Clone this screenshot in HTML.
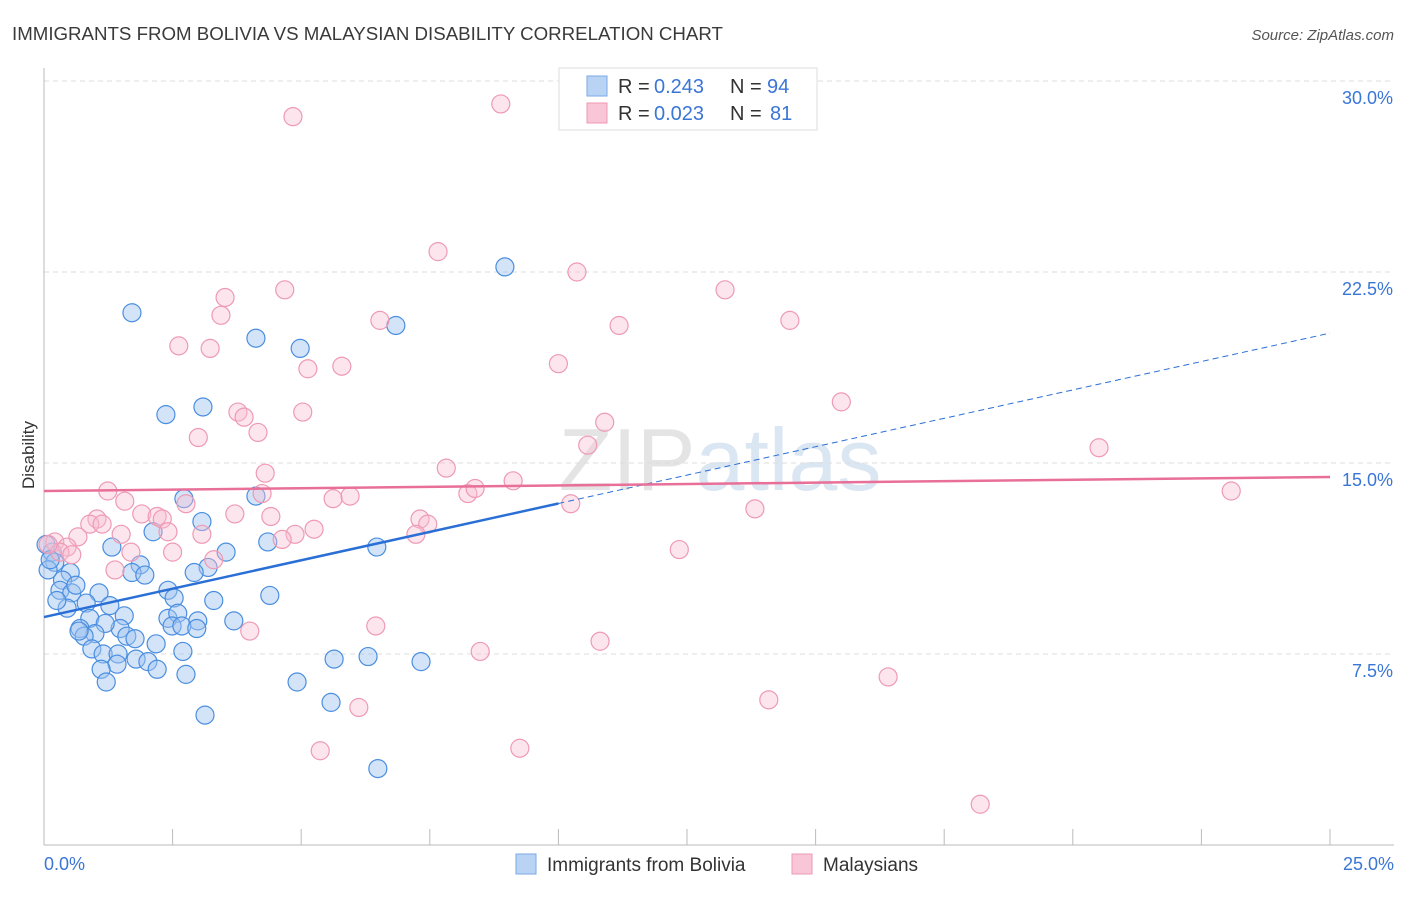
<!DOCTYPE html>
<html><head><meta charset="utf-8"><style>
body{margin:0;background:#fff;font-family:"Liberation Sans",sans-serif;}
svg text{font-family:"Liberation Sans",sans-serif;}
</style></head><body>
<svg width="1406" height="892" xmlns="http://www.w3.org/2000/svg">
<text x="12" y="40" font-size="18.7" fill="#3a3a3a">IMMIGRANTS FROM BOLIVIA VS MALAYSIAN DISABILITY CORRELATION CHART</text>
<text x="1394" y="40" font-size="15" fill="#555" font-style="italic" text-anchor="end">Source: ZipAtlas.com</text>
<text x="720" y="490" font-size="88" fill="#e4e4e4" text-anchor="middle" font-family="Liberation Serif">ZIP<tspan fill="#dbe6f3" font-family="Liberation Sans">atlas</tspan></text>
<g id="grid"></g>
<g id="axes"></g>
<g id="pts"></g>
<g id="lines"></g>
<text x="34" y="455" font-size="17" fill="#333" text-anchor="middle" transform="rotate(-90 34 455)">Disability</text>
<g>
<rect x="559" y="68" width="258" height="62" fill="#fff" stroke="#ddd"/>
<rect x="587" y="76" width="20" height="20" fill="#b9d3f5" stroke="#7aa9e6"/>
<rect x="587" y="103" width="20" height="20" fill="#f8c6d6" stroke="#ee9ab4"/>
<text x="618" y="93" font-size="20" fill="#333">R =</text>
<text x="654" y="93" font-size="20" fill="#3a76d6">0.243</text>
<text x="730" y="93" font-size="20" fill="#333">N =</text>
<text x="767" y="93" font-size="20" fill="#3a76d6">94</text>
<text x="618" y="120" font-size="20" fill="#333">R =</text>
<text x="654" y="120" font-size="20" fill="#3a76d6">0.023</text>
<text x="730" y="120" font-size="20" fill="#333">N =</text>
<text x="770" y="120" font-size="20" fill="#3a76d6">81</text>
</g>
<g>
<rect x="516" y="854" width="20" height="20" fill="#b9d3f5" stroke="#7aa9e6"/>
<text x="547" y="871" font-size="19" fill="#333">Immigrants from Bolivia</text>
<rect x="792" y="854" width="20" height="20" fill="#f8c6d6" stroke="#ee9ab4"/>
<text x="823" y="871" font-size="19" fill="#333">Malaysians</text>
</g>
</svg>
<script>
const yTicks=[7.5,15.0,22.5,30.0];
const xTickLabels=["0.0%","25.0%"];
const blueX=[8.96,1.71,4.12,6.84,4.98,2.37,3.09,2.72,4.12,3.07,2.12,4.35,6.47,3.54,1.32,1.87,1.71,1.96,3.19,2.92,0.51,0.16,0.21,0.08,0.36,0.31,0.54,1.07,2.41,2.53,3.30,4.39,0.82,1.28,0.45,0.89,1.56,2.41,2.60,2.99,1.48,1.19,0.70,0.99,0.78,2.49,2.68,2.97,3.69,1.61,1.77,2.18,0.93,1.15,1.44,1.79,2.02,2.70,1.42,1.11,2.20,2.76,1.21,5.64,6.30,7.33,4.92,5.58,3.13,6.49,0.04,0.12,0.62,0.25,0.68];
const blueY=[22.7,20.9,19.9,20.4,19.5,16.9,17.2,13.6,13.7,12.7,12.3,11.9,11.7,11.5,11.7,11.0,10.7,10.6,10.9,10.7,10.7,11.5,11.1,10.8,10.4,10.0,9.9,9.9,10.0,9.7,9.6,9.8,9.5,9.4,9.3,8.9,9.0,8.9,9.1,8.8,8.5,8.7,8.5,8.3,8.2,8.6,8.6,8.5,8.8,8.2,8.1,7.9,7.7,7.5,7.5,7.3,7.2,7.6,7.1,6.9,6.9,6.7,6.4,7.3,7.4,7.2,6.4,5.6,5.1,3.0,11.8,11.2,10.2,9.6,8.4];
const pinkX=[4.84,8.88,7.66,10.36,4.68,3.52,13.24,3.44,6.53,14.5,11.18,2.62,3.23,5.79,5.13,10.0,15.5,3.77,3.89,5.03,3.0,4.16,10.9,10.57,20.51,4.3,7.82,1.24,1.57,4.24,5.62,5.95,8.24,8.38,9.12,10.24,23.08,1.9,2.2,2.3,2.76,3.71,1.03,0.89,1.13,4.41,5.25,7.31,7.46,13.82,0.66,1.5,2.41,3.07,4.88,4.63,7.23,0.21,0.45,0.31,0.54,1.69,2.5,3.3,12.35,1.38,4.0,6.45,10.81,8.48,16.41,14.09,6.12,5.37,9.25,18.2,0.08];
const pinkY=[28.6,29.1,23.3,22.5,21.8,21.5,21.8,20.8,20.6,20.6,20.4,19.6,19.5,18.8,18.7,18.9,17.4,17.0,16.8,17.0,16.0,16.2,16.6,15.7,15.6,14.6,14.8,13.9,13.5,13.8,13.6,13.7,13.8,14.0,14.3,13.4,13.9,13.0,12.9,12.8,13.4,13.0,12.8,12.6,12.6,12.9,12.4,12.8,12.6,13.2,12.1,12.2,12.3,12.2,12.2,12.0,12.2,11.9,11.7,11.5,11.4,11.5,11.5,11.2,11.6,10.8,8.4,8.6,8.0,7.6,6.6,5.7,5.4,3.7,3.8,1.6,11.8];
const blueTrend=[8.95,20.1];
const pinkTrend=[13.9,14.45];
const NS="http://www.w3.org/2000/svg";
const X=v=>44+v*(1286/25), Y=v=>845-v*(191/7.5);
function mk(tag,attrs,parent){const e=document.createElementNS(NS,tag);for(const k in attrs)e.setAttribute(k,attrs[k]);parent.appendChild(e);return e;}
const grid=document.getElementById('grid'),axes=document.getElementById('axes');
yTicks.forEach(t=>{
 const l=mk('line',{x1:44,x2:1394,y1:Y(t),y2:Y(t),stroke:'#ddd','stroke-dasharray':'5,4'},grid);
 
 
 const tx=mk('text',{x:1393,y:Y(t)+23,'font-size':18,fill:'#3a76d6','text-anchor':'end'},axes);
 tx.textContent=t.toFixed(1)+'%';
 
 
});
const ax=mk('line',{x1:44,x2:44,y1:68,y2:845,stroke:'#bbb'},axes);


const bx=mk('line',{x1:44,x2:1394,y1:845,y2:845,stroke:'#bbb'},axes);


for(let i=0;i<=10;i++){const t=mk('line',{x1:X(i*2.5),x2:X(i*2.5),y1:829,y2:845,stroke:'#bbb'},axes);
 
 }
const x0=mk('text',{x:44,y:870,'font-size':18,fill:'#3a76d6'},axes);x0.textContent=xTickLabels[0];


const x1=mk('text',{x:1394,y:870,'font-size':18,fill:'#3a76d6','text-anchor':'end'},axes);x1.textContent=xTickLabels[1];


const pts=document.getElementById('pts');
blueX.forEach((v,i)=>{const c=mk('circle',{cx:X(v),cy:Y(blueY[i]),r:9,fill:'rgba(160,196,240,0.45)',stroke:'#4a8ee0','stroke-width':1.2},pts);
 
 });
pinkX.forEach((v,i)=>{const c=mk('circle',{cx:X(v),cy:Y(pinkY[i]),r:9,fill:'rgba(248,190,210,0.4)',stroke:'#ee9ab4','stroke-width':1.2},pts);
 
 });
const lines=document.getElementById('lines');
const bm=v=>blueTrend[0]+(blueTrend[1]-blueTrend[0])*v/25;
const b1=mk('line',{x1:X(0),y1:Y(bm(0)),x2:X(10),y2:Y(bm(10)),stroke:'#2a6fd6','stroke-width':2.5},lines);


const b2=mk('line',{x1:X(10),y1:Y(bm(10)),x2:X(25),y2:Y(bm(25)),stroke:'#2a6fd6','stroke-width':1,'stroke-dasharray':'6,4'},lines);


const p1=mk('line',{x1:X(0),y1:Y(pinkTrend[0]),x2:X(25),y2:Y(pinkTrend[1]),stroke:'#e86f98','stroke-width':2.5},lines);


</script>
</body></html>
